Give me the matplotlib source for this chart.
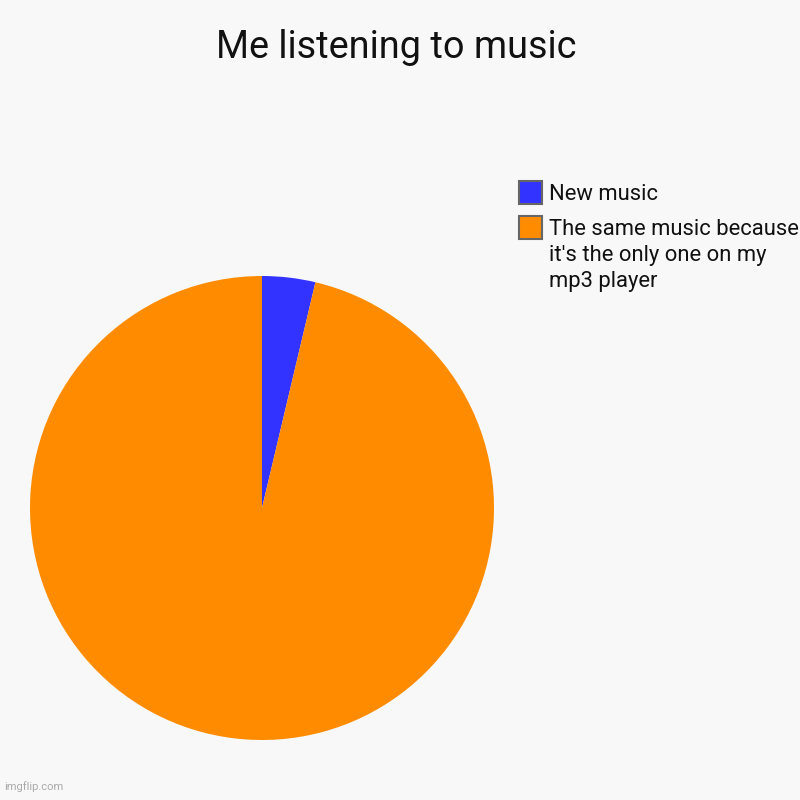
import matplotlib.pyplot as plt
from matplotlib.patches import Rectangle

plt.rcParams['font.family'] = ['Roboto', 'DejaVu Sans']

labels = ["New music", "The same music because\nit's the only one on my\nmp3 player"]
values = [3.7, 96.3]
colors = ['#3333ff', '#ff8c00']
bg = '#f8f8f8'

W = H = 800
fig = plt.figure(figsize=(8, 8), dpi=100, facecolor=bg)
ax = fig.add_axes([30 / W, 1 - 740 / H, 464 / W, 464 / H])
ax.set_facecolor(bg)
ax.pie(values, colors=colors, startangle=90, counterclock=False,
       wedgeprops={'linewidth': 0})
ax.set_xlim(-1, 1)
ax.set_ylim(-1, 1)
ax.set_aspect('equal')
ax.axis('off')

fig.text(0.495, 1 - 48 / H, "Me listening to music", ha='center', va='center',
         fontsize=27.3, color='#111111')

# legend drawn by hand: swatch + wrapped label
for i, (lab, c) in enumerate(zip(labels, colors)):
    top = 181 + i * 35
    fig.add_artist(Rectangle((519 / W, 1 - (top + 23) / H), 23 / W, 23 / H,
                             transform=fig.transFigure, facecolor=c,
                             edgecolor='#666666', linewidth=1.5))
    fig.text(549 / W, 1 - (top + 3) / H, lab, ha='left', va='top',
             fontsize=15.8, color='#111111', linespacing=1.31)

fig.text(0.005, 0.012, "imgflip.com", fontsize=8, color='#aaaaaa')

fig.savefig('out.png', dpi=100, facecolor=bg)
